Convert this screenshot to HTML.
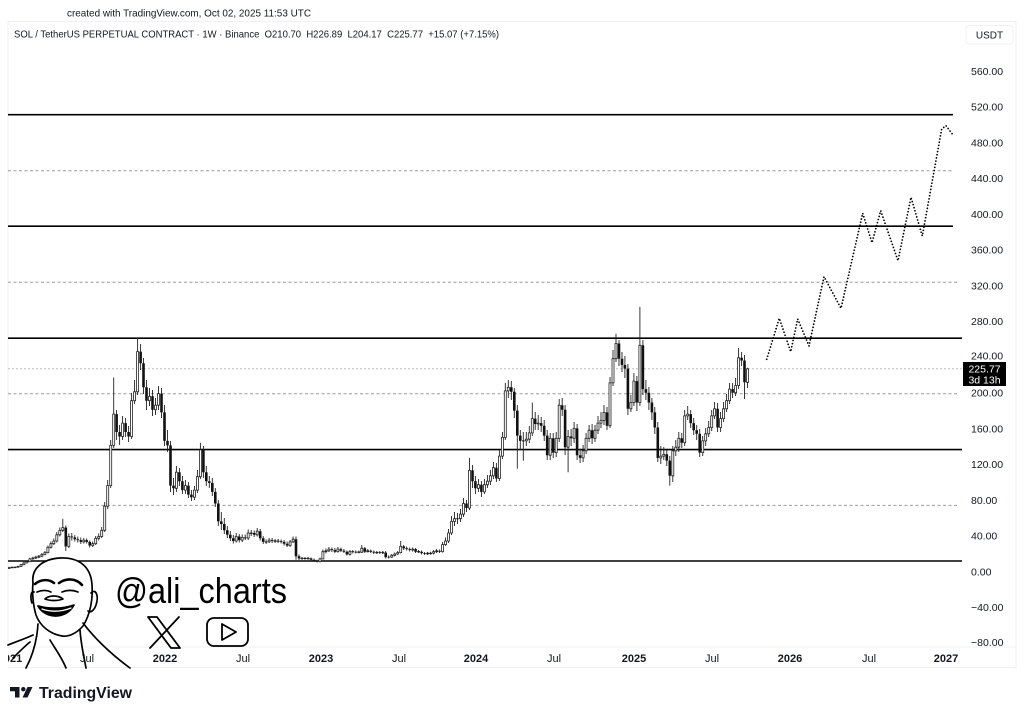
<!DOCTYPE html>
<html><head><meta charset="utf-8">
<style>
html,body{margin:0;padding:0;background:#fff;}
svg{display:block;}
text{font-family:"Liberation Sans",Arial,sans-serif;fill:#131722;}
</style></head>
<body>
<svg width="1024" height="716" viewBox="0 0 1024 716" xmlns="http://www.w3.org/2000/svg">
<defs><clipPath id="cp"><rect x="8" y="22" width="955" height="625"/></clipPath></defs>
<rect width="1024" height="716" fill="#fff"/>
<text x="67" y="16.5" font-size="10.5" textLength="244" lengthAdjust="spacingAndGlyphs">created with TradingView.com, Oct 02, 2025 11:53 UTC</text>
<rect x="8" y="21.5" width="1008" height="646" fill="none" stroke="#eef0f3" stroke-width="1"/>
<line x1="8" y1="647" x2="1016" y2="647" stroke="#eef0f3" stroke-width="1"/>
<text x="14" y="37.5" font-size="10.5" textLength="485" lengthAdjust="spacingAndGlyphs" xml:space="preserve" style="white-space:pre">SOL / TetherUS PERPETUAL CONTRACT · 1W · Binance  O210.70  H226.89  L204.17  C225.77  +15.07 (+7.15%)</text>

<g clip-path="url(#cp)">
<g stroke="#000" stroke-width="1.6">
<line x1="8" y1="114.7" x2="953" y2="114.7"/>
<line x1="8" y1="226.2" x2="953" y2="226.2"/>
<line x1="8" y1="338.2" x2="962" y2="338.2"/>
<line x1="8" y1="449.6" x2="962" y2="449.6"/>
<line x1="8" y1="561" x2="962" y2="561"/>
</g>
<g stroke="#9a9a9a" stroke-width="1" stroke-dasharray="3 2.5">
<line x1="8" y1="170.7" x2="953" y2="170.7"/>
<line x1="8" y1="282.3" x2="959" y2="282.3"/>
<line x1="8" y1="393.8" x2="959" y2="393.8"/>
<line x1="8" y1="505.4" x2="959" y2="505.4"/>
</g>
<line x1="8" y1="368.8" x2="962" y2="368.8" stroke="#bdbdbd" stroke-width="1" stroke-dasharray="2 2"/>

<!-- wicks -->
<path fill="none" stroke="#222" stroke-width="0.9" d="M9 566.9V569M12 566.8V568M15 566.5V567.9M18 565.8V567.6M21 563.9V567M23.9 562V565.3M26.9 560.5V563.5M29.9 557.8V562.2M32.9 556.8V559.8M35.9 555.8V559M38.9 555V558.2M41.9 553V557M44.9 551V555.3M47.9 545.5V553.5M50.9 541.5V548.5M53.8 538.5V545M56.8 532V542.5M59.8 527.5V536.5M62.8 518.7V532M65.8 525.5V551M68.8 533.5V548M71.8 533V540.5M74.8 535V541.5M77.8 536.5V542.5M80.8 537.5V544M83.8 538V543.5M86.7 538.5V543.5M89.7 540.5V547.5M92.7 541.5V547M95.7 536V545M98.7 533.5V540.5M101.7 527V538M104.7 502V532M107.7 480V509M110.7 440V488M113.7 377.5V448M116.6 410V440M119.6 425V445M122.6 416V440M125.6 418V437M128.6 426V442M131.6 393V439M134.6 380V404M137.6 338.2V395M140.6 344V370M143.5 358V394M146.5 380V410M149.5 388V406M152.5 390V416M155.5 398V415M158.5 386V410M161.5 388V418M164.5 405V446M167.5 430V452M170.5 441V492M173.5 478V495M176.4 466V492M179.4 468V486M182.4 476V494M185.4 480V494M188.4 482V498M191.4 490V501M194.4 486V500M197.4 470V493M200.4 442.7V479M203.4 446V478M206.3 466V486M209.3 476V488M212.3 478V496M215.3 488V507M218.3 500V526M221.3 512V530M224.3 518V534M227.3 526V538M230.3 531V541M233.3 535V543.5M236.2 533V542.5M239.2 534V542.5M242.2 534.5V542M245.2 534.5V540M248.2 529.5V540M251.2 530V536M254.2 530.5V537M257.2 528V536.5M260.2 529V540.5M263.2 536V544M266.1 539.5V544M269.1 538V543M272.1 538V543M275.1 539V543M278.1 539V543M281.1 539.5V543.5M284.1 540V545.5M287.1 541.5V547M290.1 540V547M293.1 536.5V543M296 536.5V559.8M299 554.5V560M302 557V559.8M305 557V559.8M308 557V559.8M311 557.5V561M314 558.5V561.8M317 559.8V562.5M320 557.5V562.5M322.9 549.5V559.5M325.9 548.5V553.5M328.9 547V552M331.9 547.5V552M334.9 548V553M337.9 547V552.5M340.9 547.5V552M343.9 549V553M346.9 550.5V555.5M349.9 550V555.5M352.8 550V553.5M355.8 550.5V553.5M358.8 550.5V553.5M361.8 545V553M364.8 547V553M367.8 549V552.5M370.8 549.5V553M373.8 550.5V554M376.8 551V554M379.8 551V554M382.8 551V554M385.7 551V558.5M388.7 555.5V558.5M391.7 554V558M394.7 552.5V556.5M397.7 551V555M400.7 541V553.5M403.7 545V550M406.7 546.5V550.5M409.7 547.5V551.5M412.7 547.5V551.5M415.6 548V553M418.6 550V553M421.6 550.5V554.5M424.6 552V555M427.6 552V555M430.6 551.8V554.8M433.6 550V554.5M436.6 549V553M439.6 549.5V553M442.6 542V552.5M445.5 537.5V546M448.5 529V543M451.5 516V535M454.5 512V526M457.5 513V524M460.5 509V522M463.5 498V517M466.5 500V512M469.5 457.9V510M472.5 465V488M475.4 476V494M478.4 479V492M481.4 481V497M484.4 479V494M487.4 475V488M490.4 470V485M493.4 462V479M496.4 463V482M499.4 450V481M502.4 432V459M505.3 382.9V440M508.3 380V398M511.3 381V400M514.3 388V418M517.3 405V468.6M520.3 430V450M523.3 432V460.6M526.3 432V446M529.3 426V443M532.3 402.5V436M535.2 412V430M538.2 415V430M541.2 417V432M544.2 420V441M547.2 430V460M550.2 433V460M553.2 433V458M556.2 432V457M559.2 399V442M562.2 398V416M565.1 405V455M568.1 430V472.2M571.1 429V446M574.1 422V443M577.1 424V460M580.1 449V463M583.1 445V462M586.1 433V454M589.1 425V442M592.1 424V444M595 425V442M598 416V434M601 412V428M604 405V425M607 407V430M610 377V428M613 350V386M616 333.7V362M619 340V366M622 352V372M624.9 356V378M627.9 364V415M630.9 395V412M633.9 373V406M636.9 376V411M639.9 306.9V406M642.9 340V395M645.9 380V400M648.9 387V410M651.9 398V420M654.8 407V434M657.8 422V462M660.8 446V464M663.8 447V460M666.8 450V466M669.8 456V485.6M672.8 446V482M675.8 440V456M678.8 432V452M681.8 433V448M684.7 410V446M687.7 406V420M690.7 410V428M693.7 418V435M696.7 425V440M699.7 429V457M702.7 436V456M705.7 428V446M708.7 421V437M711.7 410V431M714.6 402V419M717.6 403V432M720.6 412V432M723.6 402V422M726.6 394V412M729.6 383V404M732.6 383V398M735.6 378V396M738.6 348V389M741.6 352V366M744.5 355V399M747.5 367.8V388.1"/>

<!-- up candles (hollow) -->
<path fill="#fff" stroke="#222" stroke-width="0.8" d="M8 567.5H10V568.5H8ZM11 567.2H13V567.8H11ZM14 567.1H16V567.7H14ZM17 566.5H19V567.2H17ZM20 564.7H22V566.5H20ZM22.9 562.9H24.9V564.7H22.9ZM25.9 561.6H27.9V562.9H25.9ZM28.9 558.9H30.9V561.6H28.9ZM31.9 558H33.9V558.9H31.9ZM34.9 557.1H36.9V558H34.9ZM37.9 556.2H39.9V557.1H37.9ZM40.9 554.4H42.9V556.2H40.9ZM43.9 552.6H45.9V554.4H43.9ZM46.9 547.3H48.9V552.6H46.9ZM49.9 543.7H51.9V547.3H49.9ZM52.8 541H54.8V543.7H52.8ZM55.8 534.8H57.8V541H55.8ZM58.8 530.3H60.8V534.8H58.8ZM61.8 527.6H63.8V530.3H61.8ZM67.8 536.5H69.8V546.4H67.8ZM82.8 540.1H84.8V541.9H82.8ZM91.7 543.7H93.7V545.5H91.7ZM94.7 538.3H96.7V543.7H94.7ZM97.7 536.5H99.7V538.3H97.7ZM100.7 530.3H102.7V536.5H100.7ZM103.7 506.2H105.7V530.3H103.7ZM106.7 485.6H108.7V506.2H106.7ZM109.7 445.4H111.7V485.6H109.7ZM112.7 414.1H114.7V445.4H112.7ZM121.6 423.1H123.6V436.5H121.6ZM130.6 400.7H132.6V436.5H130.6ZM133.6 391.8H135.6V400.7H133.6ZM136.6 351.6H138.6V391.8H136.6ZM148.5 396.3H150.5V400.7H148.5ZM154.5 405.2H156.5V409.7H154.5ZM157.5 393.6H159.5V405.2H157.5ZM175.4 472.2H177.4V488.3H175.4ZM184.4 485.6H186.4V490.1H184.4ZM193.4 490.1H195.4V497.2H193.4ZM196.4 476.7H198.4V490.1H196.4ZM199.4 449.9H201.4V476.7H199.4ZM235.2 536.5H237.2V541H235.2ZM241.2 537.4H243.2V540.1H241.2ZM247.2 533H249.2V538H247.2ZM250.2 533H252.2V533.6H250.2ZM256.2 531.2H258.2V534.8H256.2ZM268.1 540.1H270.1V541.9H268.1ZM274.1 540.8H276.1V541.4H274.1ZM289.1 541.9H291.1V545.5H289.1ZM292.1 539.2H294.1V541.9H292.1ZM301 558.1H303V558.7H301ZM307 558.1H309V558.7H307ZM319 558.9H321V561.6H319ZM321.9 551.7H323.9V558.9H321.9ZM324.9 550.8H326.9V551.7H324.9ZM327.9 549.1H329.9V550.8H327.9ZM336.9 549.1H338.9V551.7H336.9ZM348.9 551.7H350.9V554.4H348.9ZM357.8 551.9H359.8V552.5H357.8ZM360.8 548.2H362.8V552.2H360.8ZM366.8 550.8H368.8V551.7H366.8ZM375.8 552.3H377.8V552.9H375.8ZM381.8 552.3H383.8V552.9H381.8ZM390.7 555.3H392.7V557.1H390.7ZM393.7 554H395.7V555.3H393.7ZM396.7 552.6H398.7V554H396.7ZM399.7 546.4H401.7V552.6H399.7ZM411.7 549.1H413.7V550H411.7ZM417.6 551.4H419.6V552H417.6ZM426.6 553.2H428.6V553.8H426.6ZM429.6 553.1H431.6V553.7H429.6ZM432.6 551.7H434.6V553.1H432.6ZM435.6 550.8H437.6V551.7H435.6ZM441.6 544.6H443.6V551.7H441.6ZM444.5 541H446.5V544.6H444.5ZM447.5 533H449.5V541H447.5ZM450.5 521.4H452.5V533H450.5ZM453.5 518.7H455.5V521.4H453.5ZM459.5 514.2H461.5V518.7H459.5ZM462.5 503.5H464.5V514.2H462.5ZM468.5 470.4H470.5V508H468.5ZM477.4 484.7H479.4V488.3H477.4ZM483.4 484.7H485.4V491.9H483.4ZM486.4 481.2H488.4V484.7H486.4ZM489.4 475.8H491.4V481.2H489.4ZM492.4 467.7H494.4V475.8H492.4ZM498.4 456.1H500.4V478.5H498.4ZM501.4 437.4H503.4V456.1H501.4ZM504.3 390.9H506.3V437.4H504.3ZM507.3 387.3H509.3V390.9H507.3ZM525.3 439.2H527.3V440.9H525.3ZM528.3 432.9H530.3V439.2H528.3ZM531.3 418.6H533.3V432.9H531.3ZM537.2 423.1H539.2V424H537.2ZM549.2 438.3H551.2V455.2H549.2ZM555.2 438.3H557.2V452.6H555.2ZM558.2 405.2H560.2V438.3H558.2ZM567.1 436.5H569.1V447.2H567.1ZM573.1 428.4H575.1V438.3H573.1ZM582.1 450.8H584.1V457.9H582.1ZM585.1 438.3H587.1V450.8H585.1ZM588.1 430.2H590.1V438.3H588.1ZM594 430.2H596V438.3H594ZM597 423.1H599V430.2H597ZM600 420.4H602V423.1H600ZM603 412.4H605V420.4H603ZM609 382.9H611V425.7H609ZM612 358.7H614V382.9H612ZM615 343.5H617V358.7H615ZM629.9 402.5H631.9V408.8H629.9ZM632.9 381.1H634.9V402.5H632.9ZM638.9 345.3H640.9V402.5H638.9ZM659.8 456.1H661.8V457.9H659.8ZM662.8 454.3H664.8V456.1H662.8ZM671.8 450.8H673.8V475.8H671.8ZM674.8 447.2H676.8V450.8H674.8ZM677.8 438.3H679.8V447.2H677.8ZM683.7 415.9H685.7V442.7H683.7ZM686.7 414.1H688.7V415.9H686.7ZM701.7 440.9H703.7V452.6H701.7ZM704.7 433.8H706.7V440.9H704.7ZM707.7 427.5H709.7V433.8H707.7ZM710.7 415.9H712.7V427.5H710.7ZM713.6 408.8H715.6V415.9H713.6ZM719.6 418.6H721.6V427.5H719.6ZM722.6 408.8H724.6V418.6H722.6ZM725.6 400.7H727.6V408.8H725.6ZM728.6 389.1H730.6V400.7H728.6ZM734.6 385.5H736.6V392.7H734.6ZM737.6 357.8H739.6V385.5H737.6ZM746.5 368.8H748.5V382.3H746.5Z"/>

<!-- down candles (filled) -->
<path fill="#111" d="M64.5 527.6H67.1V546.4H64.5ZM70.5 536.5H73.1V537.4H70.5ZM73.5 537.4H76.1V539.2H73.5ZM76.5 539.2H79.1V540.1H76.5ZM79.5 540.1H82.1V541.9H79.5ZM85.4 540.1H88V541.9H85.4ZM88.4 541.9H91V545.5H88.4ZM115.3 414.1H117.9V432H115.3ZM118.3 432H120.9V436.5H118.3ZM124.3 423.1H126.9V432H124.3ZM127.3 432H129.9V436.5H127.3ZM139.3 351.6H141.9V363.2H139.3ZM142.2 363.2H144.8V387.3H142.2ZM145.2 387.3H147.8V400.7H145.2ZM151.2 396.3H153.8V409.7H151.2ZM160.2 393.6H162.8V412.4H160.2ZM163.2 412.4H165.8V440.9H163.2ZM166.2 440.9H168.8V445.4H166.2ZM169.2 445.4H171.8V485.6H169.2ZM172.2 485.6H174.8V488.3H172.2ZM178.1 472.2H180.7V481.2H178.1ZM181.1 481.2H183.7V490.1H181.1ZM187.1 485.6H189.7V494.6H187.1ZM190.1 494.6H192.7V497.2H190.1ZM202.1 449.9H204.7V472.2H202.1ZM205 472.2H207.6V481.2H205ZM208 481.2H210.6V482.9H208ZM211 482.9H213.6V491.9H211ZM214 491.9H216.6V503.5H214ZM217 503.5H219.6V521.4H217ZM220 521.4H222.6V524H220ZM223 524H225.6V530.3H223ZM226 530.3H228.6V534.8H226ZM229 534.8H231.6V538.3H229ZM232 538.3H234.6V541H232ZM237.9 536.5H240.5V540.1H237.9ZM243.9 537.4H246.5V538.4H243.9ZM252.9 533H255.5V534.8H252.9ZM258.9 531.2H261.5V538.3H258.9ZM261.9 538.3H264.5V541.9H261.9ZM264.8 541.5H267.4V542.5H264.8ZM270.8 540.1H273.4V541H270.8ZM276.8 540.6H279.4V541.6H276.8ZM279.8 541H282.4V541.9H279.8ZM282.8 541.9H285.4V543.7H282.8ZM285.8 543.7H288.4V545.5H285.8ZM294.7 539.2H297.3V556.2H294.7ZM297.7 556.2H300.3V558.4H297.7ZM303.7 558H306.3V559H303.7ZM309.7 558.4H312.3V559.8H309.7ZM312.7 559.8H315.3V560.7H312.7ZM315.7 560.7H318.3V561.6H315.7ZM330.6 549.1H333.2V550H330.6ZM333.6 550H336.2V551.7H333.6ZM339.6 549.1H342.2V550.8H339.6ZM342.6 550.8H345.2V551.7H342.6ZM345.6 551.7H348.2V554.4H345.6ZM351.5 551.3H354.1V552.1H351.5ZM354.5 551.7H357.1V552.5H354.5ZM363.5 548.2H366.1V551.7H363.5ZM369.5 550.8H372.1V551.7H369.5ZM372.5 551.7H375.1V552.6H372.5ZM378.5 552.2H381.1V553H378.5ZM384.4 552.6H387V557.1H384.4ZM387.4 556.7H390V557.5H387.4ZM402.4 546.4H405V548.2H402.4ZM405.4 548.2H408V549.1H405.4ZM408.4 549.1H411V550H408.4ZM414.3 549.1H416.9V551.7H414.3ZM420.3 551.7H422.9V553.1H420.3ZM423.3 553.1H425.9V553.9H423.3ZM438.3 550.8H440.9V551.7H438.3ZM456.2 518.3H458.8V519.2H456.2ZM465.2 503.5H467.8V508H465.2ZM471.2 470.4H473.8V481.2H471.2ZM474.1 481.2H476.7V488.3H474.1ZM480.1 484.7H482.7V491.9H480.1ZM495.1 467.7H497.7V478.5H495.1ZM510 387.3H512.6V391.8H510ZM513 391.8H515.6V410.6H513ZM516 410.6H518.6V435.6H516ZM519 435.6H521.6V440.9H519ZM522 440.4H524.6V441.4H522ZM533.9 418.6H536.5V424H533.9ZM539.9 423.1H542.5V425.7H539.9ZM542.9 425.7H545.5V435.6H542.9ZM545.9 435.6H548.5V455.2H545.9ZM551.9 438.3H554.5V452.6H551.9ZM560.9 405.2H563.5V409.7H560.9ZM563.8 409.7H566.4V447.2H563.8ZM569.8 436.5H572.4V438.3H569.8ZM575.8 428.4H578.4V455.2H575.8ZM578.8 455.2H581.4V457.9H578.8ZM590.8 430.2H593.4V438.3H590.8ZM605.7 412.4H608.3V425.7H605.7ZM617.7 343.5H620.3V358.7H617.7ZM620.7 358.7H623.3V365H620.7ZM623.6 365H626.2V368.6H623.6ZM626.6 368.6H629.2V408.8H626.6ZM635.6 381.1H638.2V402.5H635.6ZM641.6 345.3H644.2V389.1H641.6ZM644.6 389.1H647.2V392.7H644.6ZM647.6 392.7H650.2V402.5H647.6ZM650.6 402.5H653.2V412.4H650.6ZM653.5 412.4H656.1V427.5H653.5ZM656.5 427.5H659.1V457.9H656.5ZM665.5 454.3H668.1V460.6H665.5ZM668.5 460.6H671.1V475.8H668.5ZM680.5 438.3H683.1V442.7H680.5ZM689.4 414.1H692V423.1H689.4ZM692.4 423.1H695V430.2H692.4ZM695.4 430.2H698V433.8H695.4ZM698.4 433.8H701V452.6H698.4ZM716.3 408.8H718.9V427.5H716.3ZM731.3 389.1H733.9V392.7H731.3ZM740.3 357.8H742.9V360.5H740.3ZM743.2 360.5H745.8V382.3H743.2Z"/>

<polyline fill="none" stroke="#000" stroke-width="1.8" stroke-linecap="round" stroke-dasharray="0 3.2"
points="766.7,359.3 779.3,318.3 790.7,351.7 797.7,319 809,346 824,276.7 841,308.3 862.7,213.3 872,242.7 880.7,210.7 898,260.7 911,197.3 922.3,236 941.7,129 946,125.7 952.3,134"/>
</g>

<!-- price axis -->
<g font-size="10.5">
<text x="971" y="74.9">560.00</text>
<text x="971" y="110.7">520.00</text>
<text x="971" y="146.4">480.00</text>
<text x="971" y="182.2">440.00</text>
<text x="971" y="217.9">400.00</text>
<text x="971" y="253.6">360.00</text>
<text x="971" y="289.4">320.00</text>
<text x="971" y="325.1">280.00</text>
<text x="971" y="359.5">240.00</text>
<text x="971" y="396.6">200.00</text>
<text x="971" y="432.3">160.00</text>
<text x="971" y="468.1">120.00</text>
<text x="971" y="503.8">80.00</text>
<text x="971" y="539.6">40.00</text>
<text x="971" y="575.3">0.00</text>
<text x="971" y="611">−40.00</text>
<text x="971" y="646">−80.00</text>
</g>
<rect x="966" y="25.5" width="47" height="18.5" rx="3" fill="#fff" stroke="#eef0f3"/>
<text x="989.5" y="38.5" font-size="10" text-anchor="middle">USDT</text>
<rect x="963" y="362" width="43" height="24" fill="#000"/>
<text x="984.5" y="372.5" font-size="10.5" text-anchor="middle" style="fill:#fff">225.77</text>
<text x="984.5" y="383.5" font-size="10.5" text-anchor="middle" style="fill:#fff">3d 13h</text>

<!-- time axis -->
<g font-size="11" text-anchor="middle">
<text x="10" y="662" font-weight="bold">2021</text>
<text x="87" y="662">Jul</text>
<text x="165" y="662" font-weight="bold">2022</text>
<text x="243" y="662">Jul</text>
<text x="321" y="662" font-weight="bold">2023</text>
<text x="399" y="662">Jul</text>
<text x="476" y="662" font-weight="bold">2024</text>
<text x="554" y="662">Jul</text>
<text x="634" y="662" font-weight="bold">2025</text>
<text x="712" y="662">Jul</text>
<text x="790" y="662" font-weight="bold">2026</text>
<text x="869" y="662">Jul</text>
<text x="946" y="662" font-weight="bold">2027</text>
</g>
<rect x="0" y="648" width="8" height="20" fill="#fff"/>

<!-- avatar -->
<g fill="none" stroke="#000" stroke-width="1.7" stroke-linecap="round" stroke-linejoin="round">
<path fill="#fff" d="M33 583 C31 568 43 559 60 558 C78 557 91 566 92 585 C93 600 90 615 83 626 C76 634 68 637 62 636 C50 634 40 626 36 615 C33 605 32 592 33 583 Z"/>
<path d="M91 593 C96 588 99 596 96 605 C94 611 90 613 88 611"/>
<path d="M34 592 C31 590 30 598 32 603"/>
<path d="M35 584 C41 579 49 579 54 583" stroke-width="2.6"/>
<path d="M59 583 C66 578 76 578 82 585" stroke-width="2.6"/>
<path d="M37 592 C42 590 47 590 51 592"/>
<path d="M62 592 C67 590 73 590 78 592"/>
<path d="M45 599 C49 595 58 595 63 599 C58 601 50 601 45 599"/>
<path d="M38 606 C45 619 66 620 74 605 C62 609 48 609 38 606 Z" fill="#000"/>
<path d="M42 609 C51 612 61 612 71 608" stroke="#fff" stroke-width="1.3"/>
<path d="M8 645 C18 641 27 638 33 635"/>
<path d="M13 658 C19 652 25 646 30 642"/>
<path d="M38 624 C37 640 33 655 26 668"/>
<path d="M80 630 C81 645 84 657 86 668"/>
<path d="M83 623 C92 635 108 652 130 668"/>
<path d="M50 640 C56 650 62 658 66 668"/>
</g>
<text x="115" y="603" font-size="36" textLength="172" lengthAdjust="spacingAndGlyphs" style="fill:#000">@ali_charts</text>
<g fill="none" stroke="#000" stroke-width="1.8" stroke-linejoin="round" stroke-linecap="round">
<path d="M148 617 L157 617 L180 648 L171 648 Z"/>
<path d="M179 617 L150 648"/>
<rect x="207" y="618" width="41" height="28" rx="7"/>
<path d="M222 624 L222 640 L236 632 Z"/>
</g>

<!-- TradingView logo -->
<g fill="#131722">
<path d="M10 687 H19.5 V697.5 H15 V691.2 H10 Z"/>
<circle cx="23.3" cy="689.2" r="2.2"/>
<path d="M27.5 687 H32.5 L27.5 697.5 H22.5 Z"/>
</g>
<text x="39" y="698" font-size="15.5" font-weight="bold" textLength="93" lengthAdjust="spacingAndGlyphs">TradingView</text>
</svg>
</body></html>
